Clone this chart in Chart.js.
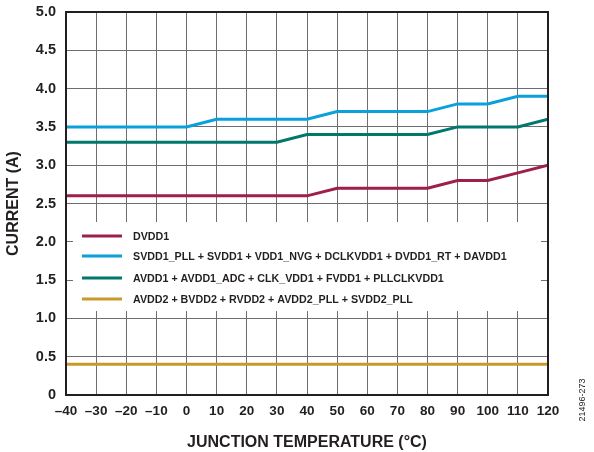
<!DOCTYPE html>
<html>
<head>
<meta charset="utf-8">
<script src="https://cdn.jsdelivr.net/npm/chart.js@4/dist/chart.umd.min.js"></script>
<style>
  html, body { margin: 0; padding: 0; background: #fff; }
  #wrap { width: 594px; height: 452px; position: relative; }
</style>
</head>
<body>
<div id="wrap"><canvas id="chart-canvas" width="594" height="452"></canvas></div>
<script>
// temperature points (°C)
var temps = [-40, -30, -20, -10, 0, 10, 20, 30, 40, 50, 60, 70, 80, 90, 100, 110, 120];

// current per supply group (A)
var dvdd1 = [2.6, 2.6, 2.6, 2.6, 2.6, 2.6, 2.6, 2.6, 2.6, 2.7, 2.7, 2.7, 2.7, 2.8, 2.8, 2.9, 3.0];
var svdd1 = [3.5, 3.5, 3.5, 3.5, 3.5, 3.6, 3.6, 3.6, 3.6, 3.7, 3.7, 3.7, 3.7, 3.8, 3.8, 3.9, 3.9];
var avdd1 = [3.3, 3.3, 3.3, 3.3, 3.3, 3.3, 3.3, 3.3, 3.4, 3.4, 3.4, 3.4, 3.4, 3.5, 3.5, 3.5, 3.6];
var avdd2 = [0.4, 0.4, 0.4, 0.4, 0.4, 0.4, 0.4, 0.4, 0.4, 0.4, 0.4, 0.4, 0.4, 0.4, 0.4, 0.4, 0.4];

var names = [
  "DVDD1",
  "SVDD1_PLL + SVDD1 + VDD1_NVG + DCLKVDD1 + DVDD1_RT + DAVDD1",
  "AVDD1 + AVDD1_ADC + CLK_VDD1 + FVDD1 + PLLCLKVDD1",
  "AVDD2 + BVDD2 + RVDD2 + AVDD2_PLL + SVDD2_PLL"
];
var colors = ["#9e1f4a", "#0aa0da", "#00786e", "#c79a2c"];

var yTicks = [0, 0.5, 1.0, 1.5, 2.0, 2.5, 3.0, 3.5, 4.0, 4.5, 5.0];

function pts(arr){
  var out = [];
  for (var i = 0; i < temps.length; i++) out.push({x: temps[i], y: arr[i]});
  return out;
}

var series = [dvdd1, svdd1, avdd1, avdd2];
var datasets = [];
// draw order: gold first so others sit on top
for (var i = series.length - 1; i >= 0; i--) {
  datasets.push({
    label: names[i],
    data: pts(series[i]),
    borderColor: colors[i],
    borderWidth: 3,
    pointRadius: 0,
    tension: 0,
    fill: false,
    order: i
  });
}

var FONT = "'Liberation Sans', Arial, sans-serif";

// white legend box inside the plot + frame + side note
var boxPlugin = {
  id: "boxLegend",
  beforeDatasetsDraw: function(chart){
    var c = chart.ctx;
    c.save();
    c.fillStyle = "#fff";
    c.fillRect(73, 222, 468, 89);
    c.restore();
  },
  afterDraw: function(chart){
    var c = chart.ctx, a = chart.chartArea;
    c.save();
    // legend rows
    var rows = [236, 256, 278, 299];
    c.font = "bold 10.7px " + FONT;
    c.textBaseline = "middle";
    c.textAlign = "left";
    for (var i = 0; i < names.length; i++) {
      c.strokeStyle = colors[i];
      c.lineWidth = 3;
      c.beginPath();
      c.moveTo(82, rows[i]);
      c.lineTo(122, rows[i]);
      c.stroke();
      c.fillStyle = "#231f20";
      c.fillText(names[i], 133, rows[i] + 1);
    }
    // frame
    c.strokeStyle = "#231f20";
    c.lineWidth = 2;
    c.strokeRect(a.left, a.top, a.right - a.left, a.bottom - a.top);
    // figure id
    c.translate(583, 400);
    c.rotate(-Math.PI / 2);
    c.font = "9px " + FONT;
    c.fillStyle = "#231f20";
    c.textAlign = "center";
    c.fillText("21496-273", 0, 0);
    c.restore();
  }
};

var ctx = document.getElementById("chart-canvas");
new Chart(ctx, {
  type: "line",
  data: { datasets: datasets },
  plugins: [boxPlugin],
  options: {
    responsive: false,
    animation: false,
    layout: { padding: { top: 12, right: 46, left: 4, bottom: 0 } },
    plugins: {
      legend: { display: false },
      tooltip: { enabled: false }
    },
    scales: {
      x: {
        type: "linear",
        min: -40,
        max: 120,
        afterBuildTicks: function(s){ s.ticks = temps.map(function(v){ return {value: v}; }); },
        grid: { color: "#6d6e71", lineWidth: 1, drawTicks: false },
        border: { display: false },
        ticks: {
          color: "#231f20",
          font: { family: FONT, size: 13.5, weight: "bold" },
          padding: 8,
          maxRotation: 0,
          autoSkip: false,
          callback: function(v){ return String(v).replace("-", "\u2013"); }
        },
        title: {
          display: true,
          text: "JUNCTION TEMPERATURE (°C)",
          color: "#231f20",
          font: { family: FONT, size: 16, weight: "bold" },
          padding: { top: 8, bottom: 0 }
        },
        afterFit: function(s){ s.height = 57; s.paddingLeft = 0; s.paddingRight = 0; }
      },
      y: {
        min: 0,
        max: 5,
        afterBuildTicks: function(s){ s.ticks = yTicks.map(function(v){ return {value: v}; }); },
        grid: { color: "#6d6e71", lineWidth: 1, drawTicks: false },
        border: { display: false },
        ticks: {
          color: "#231f20",
          font: { family: FONT, size: 14.5, weight: "bold" },
          padding: 10,
          autoSkip: false,
          callback: function(v){ return v === 0 ? "0" : v.toFixed(1); }
        },
        title: {
          display: true,
          text: "CURRENT (A)",
          color: "#231f20",
          font: { family: FONT, size: 16, weight: "bold" },
          padding: { top: 0, bottom: 4 }
        },
        afterFit: function(s){ s.width = 62; s.paddingTop = 0; s.paddingBottom = 0; }
      }
    }
  }
});
</script>
</body>
</html>
